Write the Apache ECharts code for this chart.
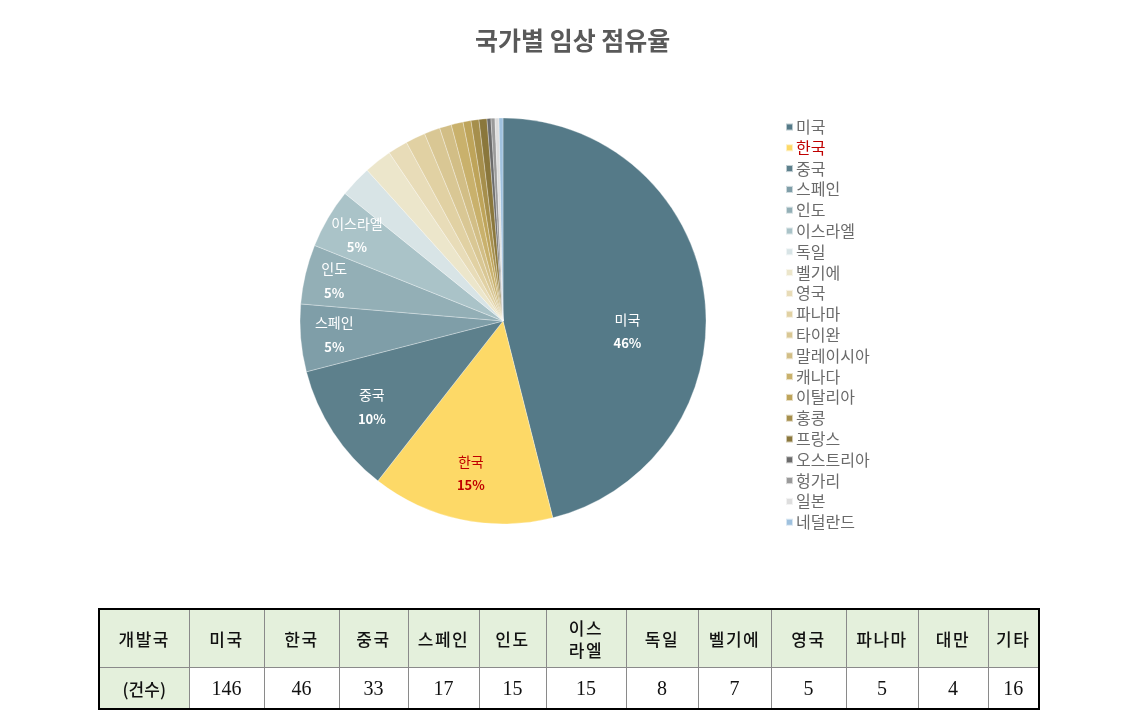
<!DOCTYPE html>
<html>
<head>
<meta charset="utf-8">
<script src="https://cdn.jsdelivr.net/npm/echarts@6/dist/echarts.min.js"></script>
<style>
  html, body { margin: 0; padding: 0; background: #fff; }
  #wrap { position: relative; width: 1129px; height: 724px; }
  #chart { position: absolute; left: 0; top: 0; width: 1129px; height: 724px; }
  #tbl { position: absolute; left: 98px; top: 608px; border-collapse: collapse; border: 2.5px solid #000; table-layout: fixed; }
  #tbl td { border: 1px solid #8a8a8a; text-align: center; padding: 0; }
  #tbl tr.h td { height: 57px; background: #e4f0dc; font-family: "Noto Sans CJK KR", sans-serif; font-weight: 500; font-size: 17px; color: #111; line-height: 22px; letter-spacing: 1.5px; }
  #tbl tr.v td { height: 40px; font-family: "Liberation Serif", serif; font-size: 20px; color: #111; }
  #tbl tr.v td.first { background: #e4f0dc; font-family: "Noto Sans CJK KR", sans-serif; font-weight: 500; font-size: 17px; }
</style>
</head>
<body>
<div id="wrap">
  <div id="chart"></div>
  <table id="tbl"></table>
</div>
<script>
// ---- data ----
const countries = ['미국','한국','중국','스페인','인도','이스라엘','독일','벨기에','영국','파나마','타이완','말레이시아','캐나다','이탈리아','홍콩','프랑스','오스트리아','헝가리','일본','네덜란드'];
const counts = [146, 46, 33, 17, 15, 15, 8, 7, 5, 5, 4, 3, 3, 2, 2, 2, 1, 1, 1, 1];
const colors = ['#557a88','#fdd967','#5d808c','#7f9ea8','#93afb6','#aac3c8','#d8e4e6','#ece6cb','#e8dcb8','#e1d1a3','#d9c794','#d2be86','#c9b16c','#bea45a','#a68f4c','#8a773c','#6b6b6b','#9a9a9a','#dedede','#9fc1de'];
const tableHeaders = ['미국','한국','중국','스페인','인도','이스<br>라엘','독일','벨기에','영국','파나마','대만','기타'];
const tableCounts = [146, 46, 33, 17, 15, 15, 8, 7, 5, 5, 4, 16];
const titleText = '국가별 임상 점유율';
const rowHead = ['개발국', '(건수)'];

// ---- style ----
const colWidths = [90, 75, 75, 69, 71, 67, 80, 72, 73, 75, 72, 70, 51];
const labelRadial = [0.6, 0.745, 0.75, 0.81, 0.83, 0.81];
const labelShiftY = [26, 0, 0, 0, 0, 0];
const cx = 503, cy = 321, R = 203;

// ---- table ----
const tbl = document.getElementById('tbl');
let html = '<colgroup>' + colWidths.map(w => '<col style="width:' + w + 'px">').join('') + '</colgroup>';
html += '<tr class="h"><td>' + rowHead[0] + '</td>' + tableHeaders.map(h => '<td>' + h + '</td>').join('') + '</tr>';
html += '<tr class="v"><td class="first">' + rowHead[1] + '</td>' + tableCounts.map(v => '<td>' + v + '</td>').join('') + '</tr>';
tbl.innerHTML = html;
tbl.style.width = colWidths.reduce((a, b) => a + b, 0) + 'px';

// ---- chart ----
const chart = echarts.init(document.getElementById('chart'), null, { renderer: 'canvas' });
const pieData = countries.map((n, i) => {
  const d = { name: n, value: counts[i], itemStyle: { color: colors[i] } };
  if (i > 5) d.label = { show: false };
  if (i === 1) d.label = { color: '#c00000', rich: { n: { color: '#c00000' }, p: { color: '#c00000' } } };
  return d;
});
chart.setOption({
  backgroundColor: '#ffffff',
  animation: false,
  title: {
    text: titleText,
    left: 470, top: 23,
    textStyle: { fontFamily: 'Noto Sans CJK KR', fontSize: 25, fontWeight: 'bold', color: '#595959' }
  },
  legend: {
    orient: 'vertical',
    left: 780, top: 114,
    icon: 'rect',
    itemWidth: 7, itemHeight: 7,
    itemGap: 4.8,
    textStyle: { fontFamily: 'Noto Sans CJK KR', fontSize: 16, color: '#6a6a6a', lineHeight: 16, padding: [0, 0, 0, -2] },
    data: countries.map((n, i) => i === 1 ? { name: n, textStyle: { color: '#c00000' } } : { name: n })
  },
  series: [{
    type: 'pie',
    center: [cx, cy],
    radius: [0, R],
    startAngle: 90,
    clockwise: true,
    data: pieData,
    itemStyle: { borderColor: 'rgba(255,255,255,0.6)', borderWidth: 0.5 },
    emphasis: { disabled: true },
    label: {
      show: true,
      position: 'inside',
      color: '#ffffff',
      formatter: p => '{n|' + p.name + '}\n{p|' + Math.round(p.percent) + '%}',
      rich: {
        n: { fontFamily: 'Noto Sans CJK KR', fontSize: 14, color: '#ffffff', lineHeight: 24 },
        p: { fontFamily: 'Noto Sans CJK KR', fontSize: 13, fontWeight: 'bold', color: '#ffffff', lineHeight: 24 }
      }
    },
    labelLine: { show: false },
    labelLayout: function (params) {
      const i = params.dataIndex;
      if (i > 5) return {};
      const r = params.labelRect;
      const lx = r.x + r.width / 2, ly = r.y + r.height / 2;
      const k = labelRadial[i] / 0.5 - 1;
      return { dx: (lx - cx) * k, dy: (ly - cy) * k + labelShiftY[i] };
    }
  }]
});
</script>
</body>
</html>
